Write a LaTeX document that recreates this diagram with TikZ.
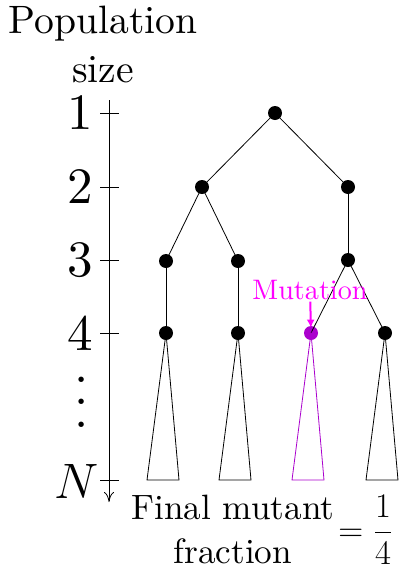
\documentclass[tikz,border=0pt]{standalone}
\usepackage{amsmath}
\usepackage{fontspec}
\setmainfont{lmroman10-regular.otf}[ItalicFont=lmroman10-italic.otf, BoldFont=lmroman10-bold.otf]
\usetikzlibrary{arrows.meta}
\definecolor{mutant}{RGB}{170,0,205}
\definecolor{mutlabel}{RGB}{255,0,255}

\begin{document}
\begin{tikzpicture}[x=0.5pt, y=-0.5pt,
  dot/.style={circle, fill=black, inner sep=0pt, minimum size=7pt},
  lvl/.style={left, font=\fontsize{25.5}{30}\selectfont},
  clade/.style={line join=miter}]
  \useasboundingbox (0,0) rectangle (401,568);
  \node[font=\fontsize{19.8}{24.5}\selectfont, align=center, anchor=base] (title) at (103,82) {Population\\size};
  % population axis
  \coordinate (top) at (109,100);
  \coordinate (bot) at (109,502);
  \draw[-{To[length=5pt,width=5pt]}] (top) -- (bot);
  \foreach \y/\lab/\nm in {113/1/l1, 187/2/l2, 260/3/l3, 333/4/l4} {
    \draw (100,\y) -- (119,\y);
    \node[lvl] (\nm) at (100,\y) {\lab};
  }
  \draw (100,480) -- (119,480);
  \node[lvl] (lN) at (106,481) {$N$};
  \node[font=\fontsize{25.5}{30}\selectfont] (dots) at (82,402)
    {\vbox{\baselineskip=11.25pt\lineskiplimit=0pt\hbox{.}\hbox{.}\hbox{.}}};
  % tree
  \node[dot] (r) at (275,113) {};
  \node[dot] (a) at (202,187) {};
  \node[dot] (b) at (348,187) {};
  \node[dot] (aa) at (166,261) {};
  \node[dot] (ab) at (238,261) {};
  \node[dot] (ba) at (348,260) {};
  \node[dot] (c1) at (166,333) {};
  \node[dot] (c2) at (238,333) {};
  \node[dot, fill=mutant] (c3) at (311,333) {};
  \node[dot] (c4) at (385,333) {};
  \foreach \p/\q in {r/a, r/b, a/aa, a/ab, b/ba, aa/c1, ab/c2, ba/c3, ba/c4}
    \draw (\p.center) -- (\q.center);
  % clades grown to size N
  \foreach \c in {c1, c2, c4}
    \draw[clade] (\c.center) -- ++(-19,147) -- ++(32,0) -- cycle;
  \draw[clade, mutant] (c3.center) -- ++(-19,147) -- ++(32,0) -- cycle;
  \node[font=\fontsize{14.1}{17}\selectfont, text=mutlabel, anchor=base, inner sep=1pt] (mut) at (310,299) {Mutation};
  \draw[mutlabel, line width=1pt, -{Latex[length=4pt,width=4pt]}, shorten >=-1pt] (mut) -- (c3);
  \node[font=\fontsize{17.6}{22}\selectfont, anchor=base west, inner sep=0pt] (frac) at (131,541)
    {\begin{tabular}{@{}c@{}}Final mutant\\fraction\end{tabular}\hspace{2pt}$=\dfrac{1}{4}$};
\end{tikzpicture}
\end{document}
